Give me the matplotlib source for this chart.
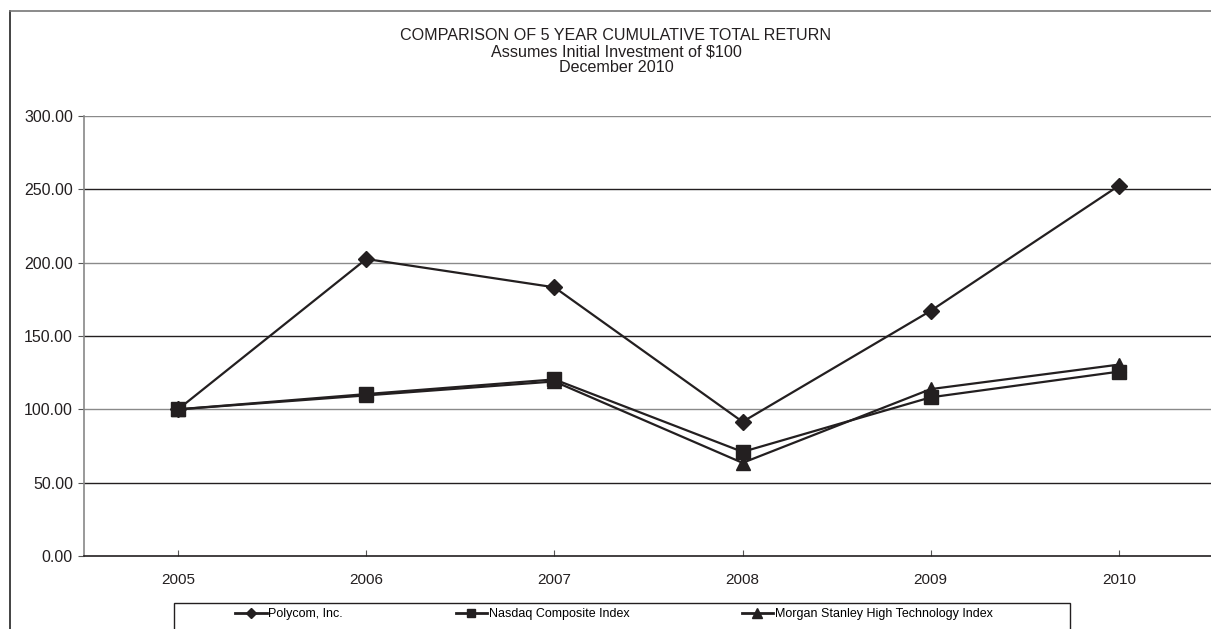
"""
5 year cumulative total return chart, Polycom vs indices.
"""
import matplotlib
matplotlib.use('Agg')
import matplotlib.pyplot as plt
from matplotlib.lines import Line2D
from matplotlib.patches import Rectangle

plt.rcParams['font.family'] = ['Liberation Sans', 'DejaVu Sans']

years = ['2005', '2006', '2007', '2008', '2009', '2010']
polycom = [100.0, 202.5, 183.2, 91.5, 167.2, 252.5]
nasdaq = [100.0, 110.4, 120.4, 71.0, 108.2, 125.7]
ms_tech = [100.0, 109.5, 119.0, 63.5, 113.8, 130.5]
series_names = ['Polycom, Inc.', 'Nasdaq Composite Index',
                'Morgan Stanley High Technology Index']
y_ticks = [0, 50, 100, 150, 200, 250, 300]

W, H = 1211, 629
ink = '#231f20'
fig = plt.figure(figsize=(W / 100, H / 100), dpi=100)

# outer border (left + top only visible)
fig.add_artist(Line2D([10 / W, 10 / W], [0, 1 - 11 / H], color='#222222', lw=1.2))
fig.add_artist(Line2D([10 / W, 1], [1 - 11 / H, 1 - 11 / H], color='#777777', lw=1.2))

# titles
tx = 616 / W
fig.text(tx, 1 - 36 / H, 'COMPARISON OF 5 YEAR CUMULATIVE TOTAL RETURN',
         ha='center', va='center', fontsize=11.6, color=ink)
fig.text(tx, 1 - 52 / H, 'Assumes Initial Investment of $100',
         ha='center', va='center', fontsize=11.6, color=ink)
fig.text(tx, 1 - 68 / H, 'December 2010',
         ha='center', va='center', fontsize=11.6, color=ink)

ax = fig.add_axes([84 / W, 1 - 556 / H, (1213 - 84) / W, 440 / H])
x = list(range(len(years)))

# gridlines
for i, v in enumerate(y_ticks[1:]):
    ax.axhline(v, color='#8a8a8a' if i % 2 else ink, lw=1.0, zorder=1)

# nasdaq drawn last so its squares sit on top, as in the original
style = dict(color=ink, lw=1.6)
ax.plot(x, polycom, marker='D', markersize=8.5, zorder=3, **style)
ax.plot(x, ms_tech, marker='^', markersize=10.5, zorder=4, **style)
ax.plot(x, nasdaq, marker='s', markersize=10.5, zorder=5, **style)

ax.set_xlim(-0.5, len(years) - 0.5)
ax.set_ylim(0, 300)
ax.set_xticks(x)
ax.set_xticklabels(years)
ax.set_yticks(y_ticks)
ax.set_yticklabels([f'{v:.2f}' for v in y_ticks])
ax.tick_params(axis='x', direction='in', length=4, pad=12, labelsize=11,
               color='#555555', labelcolor=ink)
ax.tick_params(axis='y', direction='out', length=4, pad=4, labelsize=11.5,
               color='#555555', labelcolor=ink)
for side in ['top', 'right']:
    ax.spines[side].set_visible(False)
ax.spines['left'].set_color('#888888')
ax.spines['left'].set_linewidth(1.2)
ax.spines['bottom'].set_color(ink)
ax.spines['bottom'].set_linewidth(1.2)

# legend box
fig.add_artist(Rectangle((174 / W, -0.05), (1070 - 174) / W, 0.05 + 1 - 603 / H,
                         transform=fig.transFigure, fill=False,
                         edgecolor=ink, lw=1.0))
h1 = Line2D([], [], marker='D', markersize=5, color=ink, lw=2)
h2 = Line2D([], [], marker='s', markersize=6, color=ink, lw=2)
h3 = Line2D([], [], marker='^', markersize=6.5, color=ink, lw=2)
fig.legend([h1, h2, h3], series_names, loc='center left',
           bbox_to_anchor=(229 / W, 1 - 614 / H), ncol=3, frameon=False,
           fontsize=9.0, handlelength=2.5, handletextpad=0.15,
           columnspacing=9.0, borderpad=0)

fig.savefig('out.png', dpi=100)
